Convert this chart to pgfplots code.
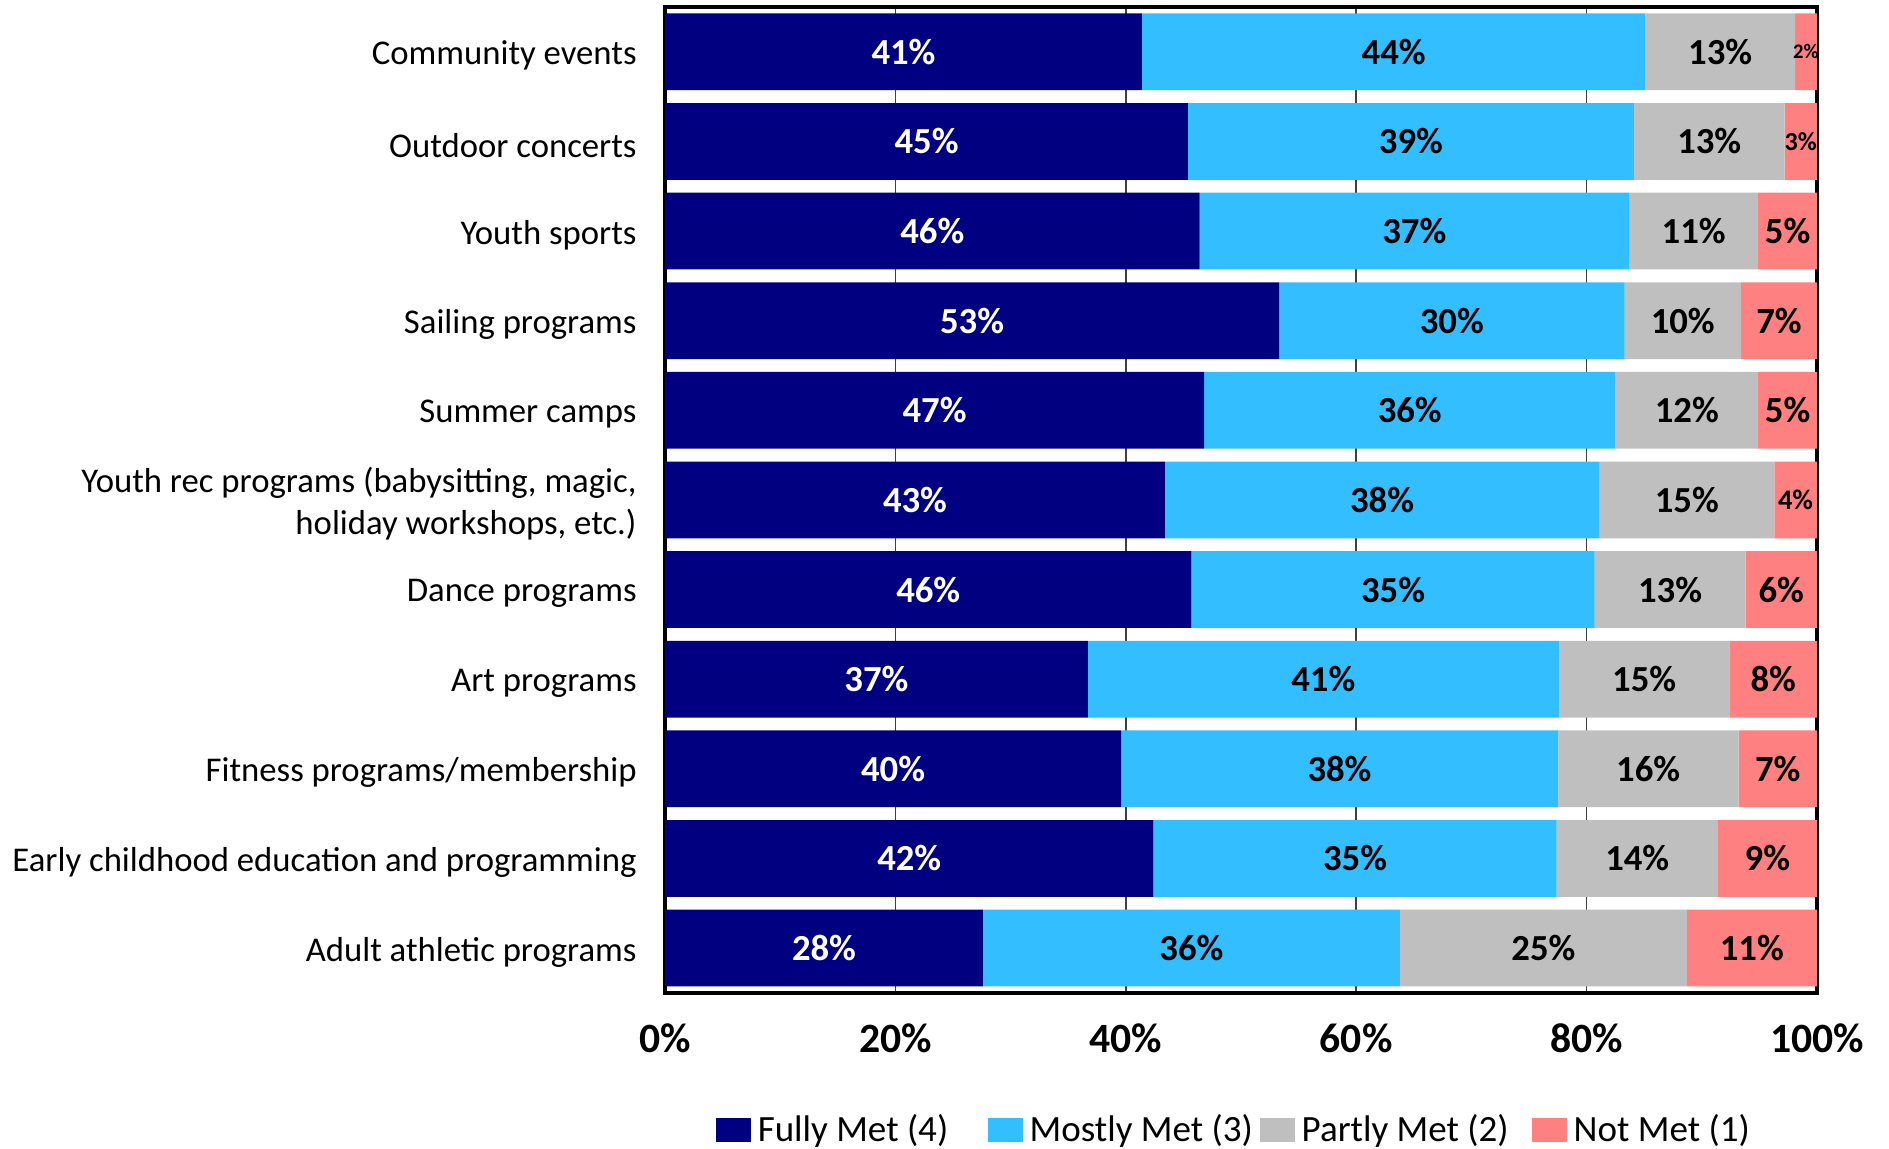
\documentclass[border=0pt]{standalone}
\usepackage{fontspec}
\setmainfont{Carlito}
\usepackage{pgfplots}
\usepackage{pgfplotstable}
\pgfplotsset{compat=1.18}
\definecolor{cFull}{RGB}{0,0,128}
\definecolor{cMost}{RGB}{51,191,255}
\definecolor{cPart}{RGB}{191,191,191}
\definecolor{cNot}{RGB}{255,128,128}
\pgfplotstableread{
y a b c d fs
10 41.4 43.7 13.0 1.9 6.2
9 45.4 38.7 13.1 2.8 7.8
8 46.4 37.3 11.2 5.1 11
7 53.3 30.0 10.1 6.6 11
6 46.8 35.7 12.4 5.1 11
5 43.4 37.7 15.2 3.7 8.5
4 45.7 35.0 13.1 6.2 11
3 36.7 40.9 14.8 7.6 11
2 39.6 37.9 15.7 6.8 11
1 42.4 35.0 14.0 8.6 11
0 27.6 36.2 24.9 11.3 11
}\data
\pgfplotsset{
  common/.style={x=3.452pt, y=26.86pt, xmin=0, xmax=100, ymin=-0.5, ymax=10.5, clip=false},
  lbl/.style={only marks, mark=*, mark size=0pt, mark options={draw=none, fill=none},
    point meta=explicit,
    nodes near coords={\pgfmathprintnumber[fixed,precision=0,assume math mode=true]{\pgfplotspointmeta}\%},
    nodes near coords style={anchor=center, inner sep=0pt, font=\bfseries\fontsize{11}{13}\selectfont}},
}
\begin{document}
\begin{tikzpicture}
\begin{axis}[
  common,
  xbar stacked,
  bar width=23pt,
  axis line style={line width=1.2pt},
  xmajorgrids, grid style={black!75, line width=0.5pt},
  xtick={0,20,40,60,80,100},
  xticklabels={0\%,20\%,40\%,60\%,80\%,100\%},
  xticklabel style={font=\bfseries\fontsize{12.5}{15}\selectfont, yshift=-5.7pt},
  ytick={0,1,2,3,4,5,6,7,8,9,10},
  yticklabels={Adult athletic programs, Early childhood education and programming, Fitness programs/membership, Art programs, Dance programs, {Youth rec programs (babysitting, magic,\\holiday workshops, etc.)}, Summer camps, Sailing programs, Youth sports, Outdoor concerts, Community events},
  yticklabel style={font=\fontsize{10.4}{12.6}\selectfont, align=right, xshift=-5pt, yshift=-1.2pt},
  major tick length=0pt,
  legend style={at={(0.044,-0.139)}, anchor=west, legend columns=4, draw=none, fill=none,
    inner sep=0pt, font=\fontsize{11.1}{13}\selectfont,
    /tikz/every even column/.append style={column sep=0pt}},
  legend image code/.code={\fill[#1] (0pt,-3.5pt) rectangle (10.4pt,3.5pt);},
]
\addplot[fill=cFull, draw=none] table[x=a, y=y] {\data};
\addlegendentry{\makebox[67.1pt][l]{Fully Met (4)}}
\addplot[fill=cMost, draw=none] table[x=b, y=y] {\data};
\addlegendentry{\makebox[67.1pt][l]{Mostly Met (3)}}
\addplot[fill=cPart, draw=none] table[x=c, y=y] {\data};
\addlegendentry{\makebox[67.1pt][l]{Partly Met (2)}}
\addplot[fill=cNot, draw=none] table[x=d, y=y] {\data};
\addlegendentry{Not Met (1)}
\end{axis}
\begin{axis}[common, hide axis]
\addplot[lbl, nodes near coords style={text=white}]
  table[x expr={\thisrow{a}/2}, y=y, meta=a] {\data};
\addplot[lbl, nodes near coords style={text=black}]
  table[x expr={\thisrow{a}+\thisrow{b}/2}, y=y, meta=b] {\data};
\addplot[lbl, nodes near coords style={text=black}]
  table[x expr={\thisrow{a}+\thisrow{b}+\thisrow{c}/2}, y=y, meta=c] {\data};
\addplot[lbl, visualization depends on={\thisrow{fs} \as \labfs},
  nodes near coords style={text=black, font=\bfseries\fontsize{\labfs}{\labfs}\selectfont}]
  table[x expr={\thisrow{a}+\thisrow{b}+\thisrow{c}+\thisrow{d}/2}, y=y, meta=d] {\data};
\end{axis}
\pgfresetboundingbox
\path[use as bounding box] ([xshift=-199.3pt,yshift=-46.7pt]current axis.south west) rectangle ([xshift=21.6pt,yshift=2.1pt]current axis.north east);
\end{tikzpicture}
\end{document}
